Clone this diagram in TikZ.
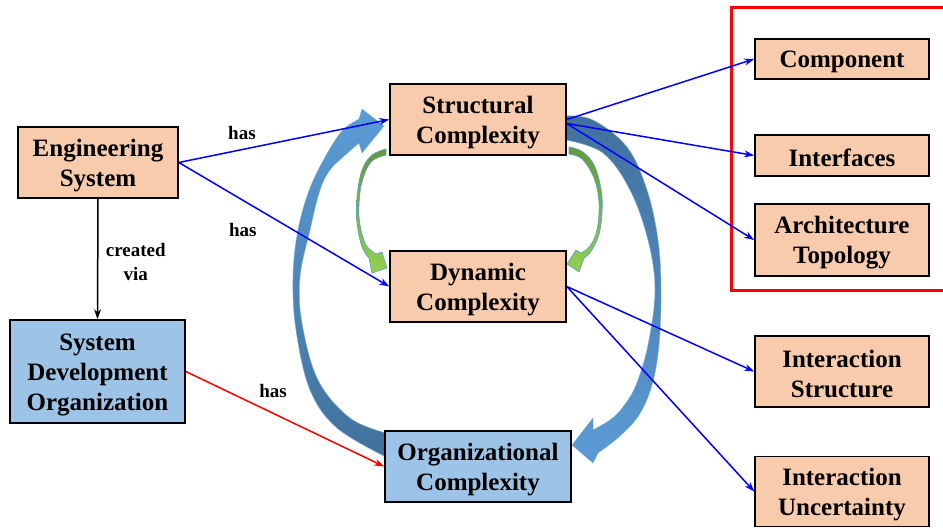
\documentclass[tikz,border=0pt]{standalone}
\usepackage{fontspec}
\setmainfont{Liberation Serif}
\usetikzlibrary{arrows.meta,backgrounds,positioning}
\definecolor{peach}{HTML}{F8CBAD}
\definecolor{lblue}{HTML}{9DC3E6}
\definecolor{arrlight}{HTML}{5B9BD5}
\definecolor{arrdark}{HTML}{41719C}
\definecolor{grdark}{HTML}{65993A}
\definecolor{grlight}{HTML}{92D050}
\definecolor{conblue}{RGB}{0,0,255}
\newcommand\tstr{\rule{0pt}{23pt}}
\begin{document}
\begin{tikzpicture}[x=1pt,y=-1pt,
  box/.style={draw=black, line width=1.6pt, font=\fontsize{25}{30}\selectfont\bfseries, align=center, inner sep=0pt},
  pbox/.style={box, fill=peach},
  bbox/.style={box, fill=lblue},
  lab/.style={font=\fontsize{19}{24}\selectfont\bfseries, align=center},
  conn/.style={line width=1.5pt, -{Stealth[length=10pt,width=7pt]}},
  bigarrow/.style={draw=arrlight!80!white, line width=0.4pt},
  grarrow/.style={draw=arrlight, line width=0.6pt, top color=grdark, bottom color=grlight},
]
\useasboundingbox (0,0) rectangle (943,528);

% nodes
\node[pbox, minimum width=160pt, minimum height=71pt] (es) at (98,162.5) {\tstr Engineering\\System};
\node[bbox, minimum width=175pt, minimum height=103pt] (sdo) at (97.5,371.5) {\tstr System\\Development\\Organization};
\node[pbox, minimum width=176pt, minimum height=71pt] (sc) at (478,119.5) {\tstr Structural\\Complexity};
\node[pbox, minimum width=176pt, minimum height=71pt] (dc) at (478,286.5) {\tstr Dynamic\\Complexity};
\node[bbox, minimum width=186pt, minimum height=71pt] (oc) at (478,466.5) {\tstr Organizational\\Complexity};
\node[pbox, minimum width=174pt, minimum height=40pt] (comp) at (842,59) {\tstr Component};
\node[pbox, minimum width=174pt, minimum height=41pt] (intf) at (842,155.5) {\tstr Interfaces};
\node[pbox, minimum width=174pt, minimum height=72pt] (arch) at (842,240) {\tstr Architecture\\Topology};
\node[pbox, minimum width=174pt, minimum height=71pt] (is) at (842,371.5) {\tstr Interaction\\Structure};
\node[pbox, minimum width=174pt, minimum height=70pt] (iu) at (842,491.5) {\tstr Interaction\\Uncertainty};

\begin{scope}[on background layer]
\fill[white] (0,0) rectangle (943,528);
% red group frame
\draw[red, line width=3pt] (731,7) rectangle (950,290);
% left big curved arrow (Organizational -> Structural)
\shade[bigarrow, top color=arrlight, bottom color=arrdark]
  plot[smooth, tension=0.6] coordinates {(386,457) (337,428) (310,390) (296,330) (293,277) (298,230) (310,188) (328,152) (343,130) (359,119)}
  -- (362,109) -- (384,126) -- (362,153) -- (359,143)
  -- plot[smooth, tension=0.6] coordinates {(359,143) (343,157) (330,170) (320,190) (310,230) (300,277) (302,323) (318,380) (350,418) (386,433)}
  -- cycle;
% right big curved arrow (Structural -> Organizational)
\shade[bigarrow, top color=arrdark, bottom color=arrlight]
  plot[smooth, tension=0.6] coordinates {(566,116) (593,120) (627,147) (647,190) (658,240) (661,290) (659,345) (652,385) (639,415) (620,436) (598,453)}
  -- (593,463) -- (572,445) -- (593,418) -- (593,430)
  -- plot[smooth, tension=0.6] coordinates {(593,430) (610,420) (623,407) (636,385) (648,345) (655,290) (648,240) (630,190) (603,153) (566,140)}
  -- cycle;
% left green arrow
\shade[grarrow]
  plot[smooth, tension=0.6] coordinates {(386,149) (372,155) (362,170) (357,197) (357,223) (362,247) (369,258)}
  -- (372,273) -- (387,268) -- (382,252) -- (376,254)
  -- plot[smooth, tension=0.6] coordinates {(376,254) (366,245) (360,225) (359,205) (362,182) (371,162) (386,155)}
  -- cycle;
% right green arrow
\shade[grarrow]
  plot[smooth, tension=0.6] coordinates {(569,147) (583,152) (595,167) (602,197) (600,230) (592,250) (584,258)}
  -- (579,272) -- (567,264) -- (576,250) -- (581,253)
  -- plot[smooth, tension=0.6] coordinates {(581,253) (590,246) (597,230) (599,203) (594,178) (582,159) (569,154)}
  -- cycle;
\end{scope}

% connectors
\draw[conn, conblue] (es.east) -- (sc.west) node[lab, text=black, pos=0.3, above=6pt] {has};
\draw[conn, conblue] (es.east) -- (dc.west) node[lab, text=black, pos=0.36, below left=12pt and -6pt] {has};
\draw[conn, black] (es.south) -- (sdo.north) node[lab, midway, right=4pt, yshift=-3pt] {created\\via};
\draw[conn, red] (sdo.east) -- (oc.west) node[lab, text=black, pos=0.38, above right=6pt and -6pt] {has};
\draw[conn, conblue] (sc.east) -- (comp.west);
\draw[conn, conblue] ([yshift=-4pt]sc.east) -- (intf.west);
\draw[conn, conblue] ([yshift=-4pt]sc.east) -- (arch.west);
\draw[conn, conblue] (dc.east) -- (is.west);
\draw[conn, conblue] (dc.east) -- (iu.west);
\end{tikzpicture}
\end{document}
